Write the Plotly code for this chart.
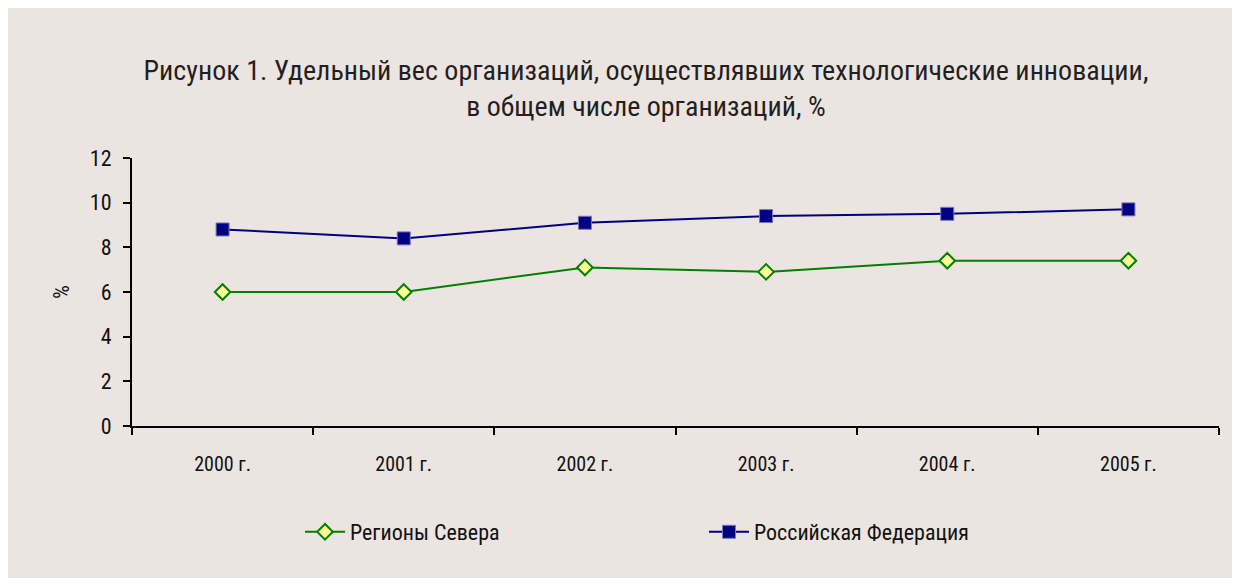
import plotly.graph_objects as go

years = ["2000 г.", "2001 г.", "2002 г.", "2003 г.", "2004 г.", "2005 г."]
north = [6.0, 6.0, 7.1, 6.9, 7.4, 7.4]
russia = [8.8, 8.4, 9.1, 9.4, 9.5, 9.7]
y_ticks = [0, 2, 4, 6, 8, 10, 12]

FONT = "Roboto Condensed, Liberation Sans Narrow, DejaVu Sans Condensed, sans-serif"
BG = "#ECE4E0"

# figure coordinates (page minus 8px body margin)
W, H = 1232, 570
L, R, T, B = 124, 21, 150, 152
pw, ph = W - L - R, H - T - B

def px(x):
    return (x - L) / pw

def py(y):
    return (H - B - y) / ph

fig = go.Figure()
fig.add_trace(go.Scatter(
    x=years, y=north, name="Регионы Севера", mode="lines+markers",
    line=dict(color="#008000", width=2),
    marker=dict(symbol="diamond", size=12, color="#FFFF99",
                line=dict(color="#008000", width=2)),
    legend="legend",
))
fig.add_trace(go.Scatter(
    x=years, y=russia, name="Российская Федерация", mode="lines+markers",
    line=dict(color="#000080", width=2),
    marker=dict(symbol="square", size=13, color="#000080",
                line=dict(color="#7777BB", width=1)),
    legend="legend2",
))

leg_common = dict(
    orientation="h", yanchor="middle", xanchor="left",
    font=dict(family=FONT, size=22, color="#111111"),
    bgcolor="rgba(0,0,0,0)", itemwidth=40,
)

fig.update_layout(
    width=W, height=H,
    margin=dict(l=L, r=R, t=T, b=B),
    paper_bgcolor=BG,
    plot_bgcolor=BG,
    font=dict(family=FONT, size=20, color="#111111"),
    title=dict(
        text="Рисунок 1. Удельный вес организаций, осуществлявших технологические инновации,<br>в общем числе организаций, %",
        x=638 / W, xanchor="center", y=1 - 72 / H, yanchor="middle",
        font=dict(family=FONT, size=28, color="#231F20"),
    ),
    showlegend=True,
    legend=dict(x=px(292), y=py(524), **leg_common),
    legend2=dict(x=px(696), y=py(524), **leg_common),
    xaxis=dict(
        type="category", range=[-0.5, 5.5], tickson="boundaries",
        ticks="outside", ticklen=7, tickwidth=2, tickcolor="black",
        showline=True, linecolor="black", linewidth=2, showgrid=False,
        zeroline=False, tickfont=dict(size=20), ticklabelstandoff=19,
    ),
    yaxis=dict(
        range=[0, 12], tickvals=y_ticks, ticks="outside", ticklen=7,
        tickwidth=2, tickcolor="black", showline=True, linecolor="black",
        linewidth=2, showgrid=False, zeroline=False,
        tickfont=dict(size=22), ticklabelstandoff=7,
        title=dict(text="%", font=dict(size=22), standoff=14),
    ),
)

fig.write_html("out.html")
